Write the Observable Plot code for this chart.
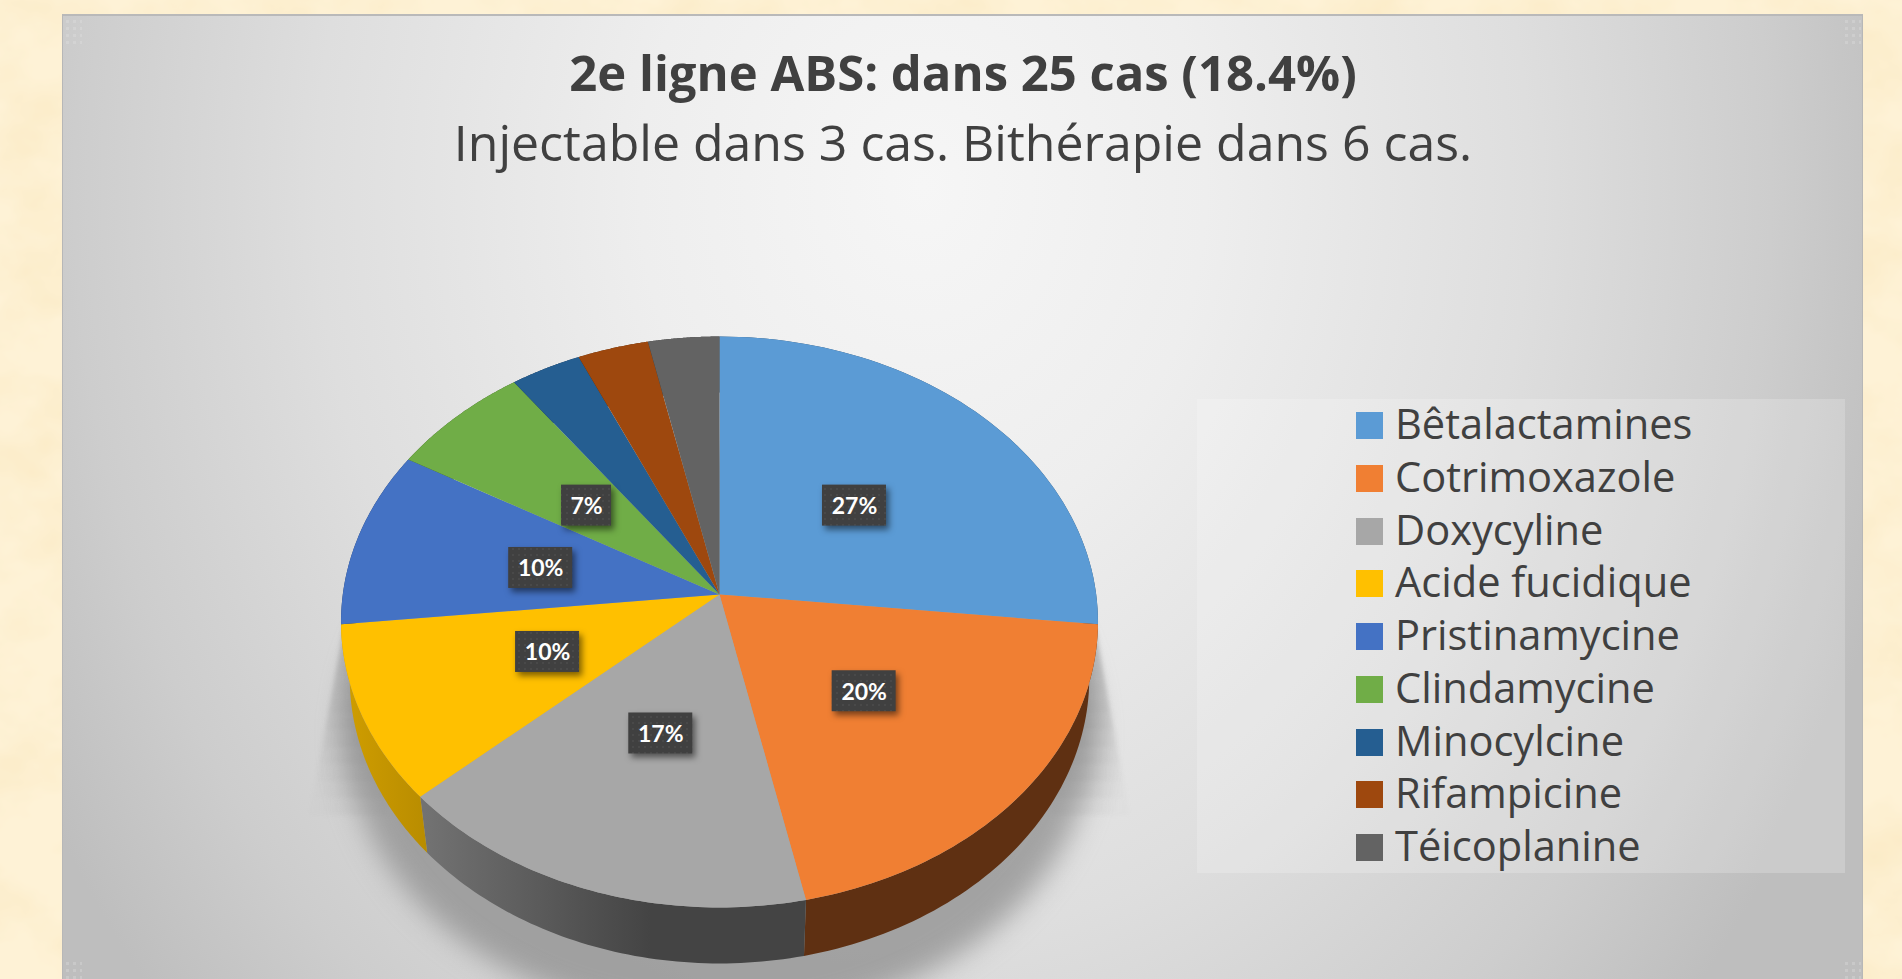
<!DOCTYPE html>
<html lang="fr">
<head>
<meta charset="utf-8">
<script src="https://cdn.jsdelivr.net/npm/d3@7"></script>
<script src="https://cdn.jsdelivr.net/npm/@observablehq/plot@0.6"></script>
<style>
  html, body { margin: 0; padding: 0; width: 1902px; height: 979px; overflow: hidden; background-color: #fef2d6; }
  #paper { position: absolute; inset: 0; }
  #panel {
    position: absolute; left: 62px; top: 14px; width: 1801px; height: 965px; box-sizing: border-box;
    border-top: 2px solid #b9b9b9; border-left: 1px solid #b7b7b7; border-right: 1px solid #b7b7b7;
    background: radial-gradient(ellipse 1010px 1250px at 860px 170px, #f6f6f6 0%, #eeeeee 28%, #dedede 60%, #cdcdcd 84%, #bebebe 100%);
  }
  .corner { position: absolute; width: 18px; height: 30px; opacity: .28;
    background-image: radial-gradient(circle, #e6e6e6 1.4px, transparent 1.9px); background-size: 7px 7px; }
  #title, #subtitle { position: absolute; left: 62px; width: 1802px; text-align: center; color: #404040; font-family: "Open Sans", sans-serif; white-space: nowrap; }
  #title { top: 39px; font-size: 49px; line-height: 66px; font-weight: 700; }
  #subtitle { top: 109px; font-size: 50px; line-height: 66px; font-weight: 400; }
  #chart { position: absolute; left: 0; top: 0; }
  #legend { position: absolute; left: 1197px; top: 399px; width: 648px; height: 474px; background: rgba(255,255,255,.2); }
  .row { position: absolute; left: 159px; height: 53px; display: flex; align-items: center; color: #404040; font: 41.6px/53px "Open Sans", sans-serif; white-space: nowrap; }
  .row span:last-child { position: relative; top: -2px; }
  .sw { width: 27px; height: 27px; margin-right: 12px; flex: none; }
</style>
</head>
<body>
<svg id="paper" width="1902" height="979" xmlns="http://www.w3.org/2000/svg">
  <filter id="mottle" x="0" y="0" width="100%" height="100%">
    <feTurbulence type="fractalNoise" baseFrequency="0.012 0.016" numOctaves="4" seed="7"/>
    <feColorMatrix values="0 0 0 0 0.96  0 0 0 0 0.82  0 0 0 0 0.55  1.6 0 0 0 -0.62"/>
  </filter>
  <rect width="1902" height="979" filter="url(#mottle)"/>
</svg>
<div id="panel"></div>
<div class="corner" style="left:64px;top:18px"></div>
<div class="corner" style="left:1843px;top:18px"></div>
<div class="corner" style="left:64px;top:960px;height:19px"></div>
<div class="corner" style="left:1843px;top:960px;height:19px"></div>
<div id="chart"></div>
<div id="title">2e ligne ABS: dans 25 cas (18.4%)</div>
<div id="subtitle">Injectable dans 3 cas. Bithérapie dans 6 cas.</div>
<div id="legend"></div>
<script>
// ---- data ----
const categories = ["Bêtalactamines","Cotrimoxazole","Doxycyline","Acide fucidique","Pristinamycine","Clindamycine","Minocylcine","Rifampicine","Téicoplanine"];
const counts = [8,6,5,3,3,2,1,1,1];
const labelled = [true,true,true,true,true,true,false,false,false];
// ---- styles ----
const topColors = ["#5b9bd5","#f07f33","#a7a7a7","#ffc000","#4472c4","#70ad47","#255e91","#9e480e","#636363"];
const sideColors = ["#2e4e6b","#5f3012","url(#greySide)","url(#yellowSide)","#223962","#385724","#132f49","#4f2407","#323232"];
// ---- layout ----
const persp = 0.0963;            // perspective of the tilted disc
const rimScale = 0.977, rimDrop = 0.198;  // lower rim of the extruded side
const labelRadius = 0.49;
const labelNudge = [[2,1],[3,1],[1,1],[0,0],[0,2],[0,1],[0,0],[0,0],[0,0]];  // px
const xK = 376.7, yK = 282.8;    // px per unit

const total = d3.sum(counts);
const arcs = d3.pie().sort(null).value(d => d)(counts);

const project = (t, r = 1) => {
  const u = Math.sin(t) * r, v = Math.cos(t) * r, w = 1 + persp * v;
  return [u / w, v / w];
};
const arcPoints = (a0, a1) => d3.range(0, 1.0001, 1 / 60).map(f => a0 + (a1 - a0) * f);

const topRows = [], sideRows = [];
arcs.forEach((a, i) => {
  const name = categories[i];
  const pts = [[0, 0], ...arcPoints(a.startAngle, a.endAngle).map(t => project(t))];
  pts.forEach(([x, y]) => topRows.push({name, x, y, color: topColors[i]}));
  const upper = arcPoints(a.startAngle, a.endAngle).map(t => project(t));
  const lower = upper.map(([x, y]) => [x * rimScale, y - rimDrop]).reverse();
  [...upper, ...lower].forEach(([x, y]) => sideRows.push({name, x, y, color: sideColors[i]}));
});

// soft shadow of the pie on the panel: a blurred copy below, and two flared wedges that fade downward
const allAngles = d3.range(0, 2 * Math.PI + 0.01, 0.05);
const shadowRows = allAngles.map(t => { const [x, y] = project(t); return {x: x * 0.985, y: y - 0.40}; });
const wedgeTop = 0.12, wedgeStep = 0.06, wedgeStrips = 15;
const outerAt = y => 0.965 + (wedgeTop - y) * 0.137;
const wedgeRows = d3.range(wedgeStrips).flatMap(k => {
  const y0 = wedgeTop - k * wedgeStep, y1 = y0 - wedgeStep;
  const op = y0 > -0.38 ? 1 : Math.max(0, 1 - (-0.38 - y0) / 0.4);
  return ["l", "r"].flatMap(side => {
    const s = side === "l" ? -1 : 1;
    return [[outerAt(y0), y0], [outerAt(y1), y1], [0.88, y1], [0.88, y0]]
      .map(([x, y]) => ({strip: side + k, x: s * x, y, op, color: `url(#flare${side})`}));
  });
});

const labels = arcs.map((a, i) => {
  const [x, y] = project((a.startAngle + a.endAngle) / 2, labelRadius);
  const [nx, ny] = labelNudge[i];
  const text = d3.format(".0%")(counts[i] / total);
  return {x: x + nx / xK, y: y - ny / yK, text, hw: (text.length > 2 ? 32 : 25) / xK, hh: 20.5 / yK};
}).filter((d, i) => labelled[i]);

const defsMark = () => {
  const g = d3.create("svg:g");
  g.html(`<defs>
    <linearGradient id="greySide" gradientUnits="userSpaceOnUse" x1="425" x2="650" y1="0" y2="0">
      <stop offset="0" stop-color="#727272"/><stop offset="1" stop-color="#444444"/></linearGradient>
    <linearGradient id="yellowSide" gradientUnits="userSpaceOnUse" x1="345" x2="428" y1="0" y2="0">
      <stop offset="0" stop-color="#cf9d00"/><stop offset="1" stop-color="#b88c00"/></linearGradient>
    <linearGradient id="flarel" gradientUnits="userSpaceOnUse" x1="316" x2="356" y1="0" y2="0">
      <stop offset="0" stop-color="#a6a6a6" stop-opacity=".2"/><stop offset="1" stop-color="#a2a2a2" stop-opacity=".95"/></linearGradient>
    <linearGradient id="flarer" gradientUnits="userSpaceOnUse" x1="1122" x2="1082" y1="0" y2="0">
      <stop offset="0" stop-color="#a6a6a6" stop-opacity=".2"/><stop offset="1" stop-color="#a2a2a2" stop-opacity=".95"/></linearGradient>
    <pattern id="dots" width="6" height="6" patternUnits="userSpaceOnUse">
      <rect width="6" height="6" fill="#404040"/><circle cx="3" cy="3" r="1" fill="#4c4c4c"/></pattern>
  </defs>`);
  return g.node();
};

const chart = Plot.plot({
  width: 1902, height: 979, margin: 0,
  style: {background: "transparent", overflow: "visible"},
  x: {domain: [-1, 1], range: [719 - xK, 719 + xK], axis: null},
  y: {domain: [-1, 1], range: [594 + yK, 594 - yK], axis: null},
  color: {type: "identity"},
  marks: [
    defsMark,
    Plot.line(wedgeRows, {x: "x", y: "y", z: "strip", fill: "color", fillOpacity: "op", stroke: "none", imageFilter: "blur(2px)"}),
    Plot.line(shadowRows, {x: "x", y: "y", fill: "#8e8e8e", stroke: "none", imageFilter: "blur(14px)", fillOpacity: 0.75}),
    Plot.line(sideRows, {x: "x", y: "y", z: "name", fill: "color", stroke: "none"}),
    Plot.line(topRows, {x: "x", y: "y", z: "name", fill: "color", stroke: "none"}),
    Plot.rect(labels, {x1: d => d.x - d.hw, x2: d => d.x + d.hw, y1: d => d.y - d.hh, y2: d => d.y + d.hh,
      fill: "url(#dots)", imageFilter: "drop-shadow(3px 4px 3px rgba(0,0,0,.5))"}),
    Plot.text(labels, {x: "x", y: "y", text: "text", fill: "#ffffff", fontSize: 23, fontWeight: 700, fontFamily: "Lato, sans-serif", dy: 1})
  ]
});
document.getElementById("chart").append(chart);

const legend = d3.select("#legend");
categories.forEach((c, i) => {
  const row = legend.append("div").attr("class", "row").style("top", (0 + i * 52.75) + "px");
  row.append("span").attr("class", "sw").style("background", topColors[i]);
  row.append("span").text(c);
});
</script>
</body>
</html>
